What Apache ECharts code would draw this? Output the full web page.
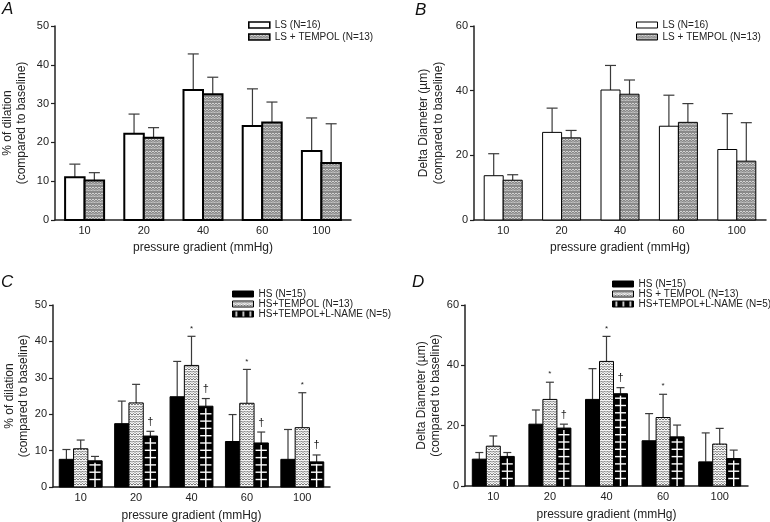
<!DOCTYPE html>
<html>
<head>
<meta charset="utf-8">
<script src="https://cdn.jsdelivr.net/npm/echarts@6/dist/echarts.min.js"></script>
<style>
  html, body { margin: 0; padding: 0; background: #fff; }
  #chart { width: 770px; height: 522px; }
</style>
</head>
<body>
<div id="chart"></div>
<script>
const FONT = 'Liberation Sans';

// pressure steps (mmHg)
const categories = ['10', '20', '40', '60', '100'];

// A: % dilation, low salt
const aLS = [11.0, 22.2, 33.5, 24.2, 17.8];
const aLSTop = [14.4, 27.3, 42.8, 33.8, 26.3];
const aTempol = [10.2, 21.2, 32.4, 25.1, 14.7];
const aTempolTop = [12.2, 23.8, 36.8, 30.4, 24.8];

// B: delta diameter, low salt
const bLS = [13.7, 27.1, 40.2, 29.0, 21.8];
const bLSTop = [20.5, 34.6, 47.8, 38.6, 32.9];
const bTempol = [12.3, 25.4, 38.9, 30.2, 18.2];
const bTempolTop = [14.0, 27.7, 43.3, 36.0, 30.1];

// C: % dilation, high salt
const cHS = [7.6, 17.4, 24.8, 12.5, 7.6];
const cHSTop = [10.3, 23.6, 34.5, 19.9, 15.8];
const cTempol = [10.5, 23.1, 33.4, 23.0, 16.3];
const cTempolTop = [12.9, 28.2, 41.4, 32.3, 25.9];
const cLname = [7.2, 14.0, 22.2, 12.1, 6.9];
const cLnameTop = [8.4, 15.3, 24.3, 15.1, 8.8];
const cStar = ['', '', '*', '*', '*'];
const cDagger = ['', '†', '†', '†', '†'];

// D: delta diameter, high salt
const dHS = [8.9, 20.5, 28.7, 15.0, 8.0];
const dHSTop = [11.1, 25.2, 38.9, 24.0, 17.6];
const dTempol = [13.2, 28.7, 41.3, 22.7, 13.9];
const dTempolTop = [16.6, 34.4, 49.6, 30.4, 19.1];
const dLname = [9.8, 19.2, 30.6, 16.3, 9.1];
const dLnameTop = [11.1, 20.5, 32.6, 20.2, 11.9];
const dStar = ['', '*', '*', '*', ''];
const dDagger = ['', '†', '†', '', ''];

// little canvas textures for the hatched bars
function makePattern(w, h, draw) {
  const cv = document.createElement('canvas');
  cv.width = w;
  cv.height = h;
  draw(cv.getContext('2d'));
  return { image: cv, repeat: 'repeat' };
}

const grayDots = makePattern(6, 6, ctx => {
  ctx.fillStyle = '#8a8a8a';
  ctx.fillRect(0, 0, 6, 6);
  ctx.strokeStyle = '#dcdcdc';
  ctx.lineWidth = 0.9;
  ctx.beginPath();
  ctx.moveTo(0, 1); ctx.lineTo(1.5, 2.5); ctx.lineTo(3, 1); ctx.lineTo(4.5, 2.5); ctx.lineTo(6, 1);
  ctx.moveTo(-1.5, 4.5); ctx.lineTo(0, 3.5); ctx.lineTo(1.5, 5); ctx.lineTo(3, 3.5); ctx.lineTo(4.5, 5); ctx.lineTo(6, 3.5);
  ctx.stroke();
});

const lightHatch = makePattern(6, 5, ctx => {
  ctx.fillStyle = '#f4f4f4';
  ctx.fillRect(0, 0, 6, 5);
  ctx.strokeStyle = '#666';
  ctx.lineWidth = 0.9;
  ctx.beginPath();
  ctx.moveTo(0, 2.5); ctx.lineTo(1.5, 1); ctx.lineTo(3, 2.5); ctx.lineTo(4.5, 1); ctx.lineTo(6, 2.5);
  ctx.moveTo(0, 5); ctx.lineTo(1.5, 3.5); ctx.lineTo(3, 5); ctx.lineTo(4.5, 3.5); ctx.lineTo(6, 5);
  ctx.stroke();
});

const blackStripes = makePattern(7, 6, ctx => {
  ctx.fillStyle = '#000';
  ctx.fillRect(0, 0, 7, 6);
  ctx.fillStyle = '#fff';
  ctx.fillRect(3, 0, 1.5, 6);
});

// one bar per category, plus upper SD whisker and significance marks
function barSeries(opt) {
  const n = opt.count;
  return {
    type: 'custom',
    name: opt.name,
    xAxisIndex: opt.grid,
    yAxisIndex: opt.grid,
    itemStyle: { color: opt.fill, borderColor: '#000', borderWidth: opt.border },
    encode: { x: 0, y: [1, 2] },
    data: opt.values.map((v, i) => [i, v, opt.tops[i]]),
    renderItem: function(params, api) {
      const i = api.value(0);
      const base = api.coord([i, 0]);
      const top = api.coord([i, api.value(1)]);
      const err = api.coord([i, api.value(2)]);
      const w = opt.barWidth;
      const cx = base[0] + (opt.index - (n - 1) / 2) * w;
      const x0 = cx - w / 2;
      const children = [];
      children.push({
        type: 'line',
        shape: { x1: cx, y1: top[1], x2: cx, y2: err[1] },
        style: { stroke: '#3a3a3a', lineWidth: 1.2 }
      });
      children.push({
        type: 'line',
        shape: { x1: cx - opt.cap, y1: err[1], x2: cx + opt.cap, y2: err[1] },
        style: { stroke: '#3a3a3a', lineWidth: 1.2 }
      });
      children.push({
        type: 'rect',
        shape: { x: x0, y: top[1], width: w, height: base[1] - top[1] },
        style: { fill: opt.fill, stroke: '#000', lineWidth: opt.border }
      });
      if (opt.crossed) {
        children.push({
          type: 'line',
          shape: { x1: cx, y1: top[1] + 2, x2: cx, y2: base[1] },
          style: { stroke: '#fff', lineWidth: 1.4 }
        });
        for (let y = base[1] - 7.5; y > top[1] + 2; y -= 7.3) {
          children.push({
            type: 'line',
            shape: { x1: x0 + 1.5, y1: y, x2: x0 + w - 1.5, y2: y },
            style: { stroke: '#fff', lineWidth: 1.4 }
          });
        }
      }
      const mark = opt.marks ? opt.marks[params.dataIndex] : '';
      if (mark) {
        children.push({
          type: 'text',
          style: {
            text: mark, x: cx, y: err[1] - 4,
            align: 'center', verticalAlign: 'bottom',
            fontSize: mark === '*' ? 8 : 11, fontFamily: FONT, fill: '#222'
          }
        });
      }
      return { type: 'group', children };
    }
  };
}

function xAxisFor(grid) {
  return {
    type: 'category',
    gridIndex: grid,
    data: categories,
    name: 'pressure gradient (mmHg)',
    nameLocation: 'middle',
    nameGap: grid < 2 ? 22 : 23,
    nameTextStyle: { fontFamily: FONT, fontSize: 12, color: '#222' },
    axisLine: { lineStyle: { color: '#222', width: 1.5 } },
    axisTick: { show: false },
    axisLabel: { fontFamily: FONT, fontSize: 11, color: '#222', margin: 5 }
  };
}

function yAxisFor(grid, name, max, interval, gap, lineH) {
  return {
    type: 'value',
    gridIndex: grid,
    min: 0,
    max: max,
    interval: interval,
    name: name,
    nameLocation: 'middle',
    nameGap: gap,
    nameTextStyle: { fontFamily: FONT, fontSize: 12, color: '#222', lineHeight: lineH },
    splitLine: { show: false },
    axisLine: { show: true, lineStyle: { color: '#222', width: 1.5 } },
    axisTick: { show: true, length: 4, lineStyle: { color: '#222', width: 1.2 } },
    axisLabel: { fontFamily: FONT, fontSize: 11, color: '#222', margin: 6 }
  };
}

function legendFor(left, top, lineH, items) {
  return {
    orient: 'vertical',
    left: left,
    top: top,
    padding: 0,
    itemGap: 0,
    itemWidth: 21,
    itemHeight: 6,
    itemStyle: { borderWidth: 1.2, borderColor: '#000' },
    textStyle: { fontFamily: FONT, fontSize: 10, color: '#222', lineHeight: lineH },
    selectedMode: false,
    data: items.map(it => ({ name: it.name, icon: 'rect', itemStyle: it.style }))
  };
}

const chart = echarts.init(document.getElementById('chart'));

const titleStyle = { fontFamily: FONT, fontSize: 17, fontStyle: 'italic', fontWeight: 'normal', color: '#111' };

chart.setOption({
  backgroundColor: '#fff',
  animation: false,
  title: [
    { text: 'A', left: 2, top: 1, padding: 0, textStyle: titleStyle },
    { text: 'B', left: 415, top: 2, padding: 0, textStyle: titleStyle },
    { text: 'C', left: 1, top: 274, padding: 0, textStyle: titleStyle },
    { text: 'D', left: 412, top: 274, padding: 0, textStyle: titleStyle }
  ],
  legend: [
    legendFor(248, 19, 12, [
      { name: 'LS (N=16)', style: { color: '#fff', borderColor: '#000', borderWidth: 1.6 } },
      { name: 'LS + TEMPOL (N=13)', style: { color: grayDots, borderColor: '#000', borderWidth: 1.6 } }
    ]),
    legendFor(636, 19, 12, [
      { name: 'LS (N=16) ', style: { color: '#fff', borderColor: '#000', borderWidth: 1 } },
      { name: 'LS + TEMPOL (N=13) ', style: { color: grayDots, borderColor: '#000', borderWidth: 1 } }
    ]),
    legendFor(232, 289, 8.6, [
      { name: 'HS (N=15)', style: { color: '#000', borderColor: '#000', borderWidth: 1 } },
      { name: 'HS+TEMPOL (N=13)', style: { color: lightHatch, borderColor: '#000', borderWidth: 1 } },
      { name: 'HS+TEMPOL+L-NAME (N=5)', style: { color: blackStripes, borderColor: '#000', borderWidth: 1 } }
    ]),
    legendFor(612, 279, 9.6, [
      { name: 'HS (N=15) ', style: { color: '#000', borderColor: '#000', borderWidth: 1 } },
      { name: 'HS + TEMPOL (N=13)', style: { color: lightHatch, borderColor: '#000', borderWidth: 1 } },
      { name: 'HS+TEMPOL+L-NAME (N=5) ', style: { color: blackStripes, borderColor: '#000', borderWidth: 1 } }
    ])
  ],
  grid: [
    { left: 55, top: 26, width: 296, height: 194, outerBoundsMode: 'none', containLabel: false },
    { left: 474, top: 26, width: 292, height: 194, outerBoundsMode: 'none', containLabel: false },
    { left: 53, top: 305, width: 277, height: 182, outerBoundsMode: 'none', containLabel: false },
    { left: 465, top: 305, width: 283, height: 181, outerBoundsMode: 'none', containLabel: false }
  ],
  xAxis: [xAxisFor(0), xAxisFor(1), xAxisFor(2), xAxisFor(3)],
  yAxis: [
    yAxisFor(0, '% of dilation\n(compared to baseline)', 50, 10, 26, 14),
    yAxisFor(1, 'Delta Diameter (µm)\n(compared to baseline)', 60, 20, 28, 15),
    yAxisFor(2, '% of dilation\n(compared to baseline)', 50, 10, 22, 14),
    yAxisFor(3, 'Delta Diameter (µm)\n(compared to baseline)', 60, 20, 22, 14)
  ],
  series: [
    barSeries({ name: 'LS (N=16)', grid: 0, values: aLS, tops: aLSTop, index: 0, count: 2, barWidth: 19.5, cap: 5.5, border: 2, fill: '#fff' }),
    barSeries({ name: 'LS + TEMPOL (N=13)', grid: 0, values: aTempol, tops: aTempolTop, index: 1, count: 2, barWidth: 19.5, cap: 5.5, border: 2, fill: grayDots }),

    barSeries({ name: 'LS (N=16) ', grid: 1, values: bLS, tops: bLSTop, index: 0, count: 2, barWidth: 19, cap: 5.5, border: 1, fill: '#fff' }),
    barSeries({ name: 'LS + TEMPOL (N=13) ', grid: 1, values: bTempol, tops: bTempolTop, index: 1, count: 2, barWidth: 19, cap: 5.5, border: 1, fill: grayDots }),

    barSeries({ name: 'HS (N=15)', grid: 2, values: cHS, tops: cHSTop, index: 0, count: 3, barWidth: 14.3, cap: 4, border: 1, fill: '#000' }),
    barSeries({ name: 'HS+TEMPOL (N=13)', grid: 2, values: cTempol, tops: cTempolTop, index: 1, count: 3, barWidth: 14.3, cap: 4, border: 1, fill: lightHatch, marks: cStar }),
    barSeries({ name: 'HS+TEMPOL+L-NAME (N=5)', grid: 2, values: cLname, tops: cLnameTop, index: 2, count: 3, barWidth: 14.3, cap: 4, border: 1, fill: '#000', crossed: true, marks: cDagger }),

    barSeries({ name: 'HS (N=15) ', grid: 3, values: dHS, tops: dHSTop, index: 0, count: 3, barWidth: 14, cap: 4, border: 1, fill: '#000' }),
    barSeries({ name: 'HS + TEMPOL (N=13)', grid: 3, values: dTempol, tops: dTempolTop, index: 1, count: 3, barWidth: 14, cap: 4, border: 1, fill: lightHatch, marks: dStar }),
    barSeries({ name: 'HS+TEMPOL+L-NAME (N=5) ', grid: 3, values: dLname, tops: dLnameTop, index: 2, count: 3, barWidth: 14, cap: 4, border: 1, fill: '#000', crossed: true, marks: dDagger })
  ]
});
</script>
</body>
</html>
